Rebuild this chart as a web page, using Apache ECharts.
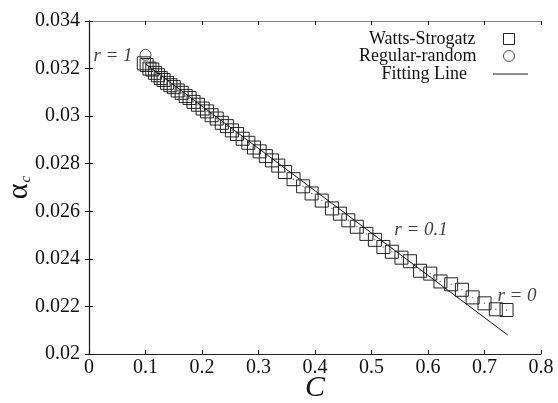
<!DOCTYPE html>
<html><head><meta charset="utf-8">
<script src="https://cdn.jsdelivr.net/npm/echarts@6/dist/echarts.min.js"></script>
<style>html,body{margin:0;padding:0;background:#fff}#c{width:558px;height:403px}</style>
</head><body><div id="c"></div>
<script>
// Watts-Strogatz points (clustering C, critical alpha)
const wsC = [0.097,0.102,0.107,0.112,0.117,0.122,0.127,0.132,0.138,0.144,0.150,0.157,0.164,0.171,0.178,0.185,0.193,0.201,0.209,0.217,0.226,0.235,0.244,0.253,0.262,0.272,0.282,0.292,0.302,0.313,0.324,0.335,
  0.347,0.362,0.379,0.394,0.412,0.430,0.444,0.459,0.474,0.491,0.506,0.521,0.536,0.553,0.568,0.586,0.604,0.622,0.641,0.660,0.679,0.700,0.720,0.739];
const wsAlpha = [0.03222,0.03215,0.03200,0.03196,0.03182,0.03172,0.03160,0.03152,0.03140,0.03130,0.03122,0.03108,0.03098,0.03085,0.03076,0.03060,0.03048,0.03032,0.03020,0.03004,0.02990,0.02972,0.02958,0.02940,0.02925,0.02905,0.02888,0.02868,0.02852,0.02832,0.02814,0.02792,
  0.02765,0.02735,0.02705,0.02675,0.02645,0.02612,0.02590,0.02562,0.02535,0.02505,0.02480,0.02450,0.02430,0.02405,0.02390,0.02350,0.02338,0.02305,0.02293,0.02270,0.02238,0.02213,0.02188,0.02185];
// Regular-random point
const rrC = [0.1];
const rrAlpha = [0.03258];
// Fitting line end points
const fitC = [0.1, 0.741];
const fitAlpha = [0.0322, 0.0208];
// Annotations
const noteC = [0.0425, 0.5876, 0.7575];
const noteAlpha = [0.03252, 0.02521, 0.02244];
const noteText = ['r = 1', 'r = 0.1', 'r = 0'];
// Axis settings
const xMin = 0, xMax = 0.8, xStep = 0.1;
const yMin = 0.02, yMax = 0.034, yStep = 0.002;

const zip = (a, b) => a.map((v, i) => [v, b[i]]);
const serif = '"Liberation Serif", "DejaVu Serif", serif';
const chart = echarts.init(document.getElementById('c'), null, {renderer: 'canvas'});

const tickStyle = {show: true, inside: true, length: 4, lineStyle: {color: '#111', width: 1}};
const baseX = {type: 'value', min: xMin, max: xMax, interval: xStep, splitLine: {show: false}};
const baseY = {type: 'value', min: yMin, max: yMax, interval: yStep, splitLine: {show: false}};

function legendFor(item, top, right, w, h, padRight) {
  return {
    data: [item], orient: 'vertical', align: 'right', right: right, top: top,
    itemWidth: w, itemHeight: h, selectedMode: false,
    itemStyle: {borderWidth: 1},
    textStyle: {fontFamily: serif, fontSize: 18, color: '#111', padding: [0, padRight, 0, 0]}
  };
}

chart.setOption({
  animation: false,
  backgroundColor: '#fff',
  grid: {left: 89, right: 17, top: 21, bottom: 49, outerBoundsMode: 'none', containLabel: false},
  legend: [
    legendFor('Watts-Strogatz', 25, 38, 11, 11, 23),
    legendFor('Regular-random', 42, 38, 11, 11, 22),
    legendFor({name: 'Fitting Line', icon: 'rect', itemStyle: {color: '#222', borderWidth: 0}}, 60, 25, 35, 1, 21)
  ],
  xAxis: [
    Object.assign({}, baseX, {
      position: 'bottom',
      axisLine: {lineStyle: {color: '#222', width: 1.2}},
      axisTick: tickStyle,
      axisLabel: {fontFamily: serif, fontSize: 20, color: '#111', margin: 4},
      name: 'C', nameLocation: 'middle', nameGap: 34, nameMoveOverlap: false,
      nameTextStyle: {fontFamily: serif, fontStyle: 'italic', fontSize: 30, color: '#111', verticalAlign: 'middle', lineHeight: 30}
    }),
    Object.assign({}, baseX, {
      position: 'top',
      axisLine: {lineStyle: {color: '#888', width: 1.2}},
      axisTick: tickStyle,
      axisLabel: {show: false}
    })
  ],
  yAxis: [
    Object.assign({}, baseY, {
      position: 'left',
      axisLine: {lineStyle: {color: '#888', width: 1.2}},
      axisTick: tickStyle,
      axisLabel: {fontFamily: serif, fontSize: 20, color: '#111', margin: 9},
      name: '{a|α}{b|c}', nameLocation: 'middle', nameGap: 55, nameRotate: 90, nameMoveOverlap: false,
      nameTextStyle: {
        color: '#111',
        rich: {
          a: {fontFamily: serif, fontSize: 30, color: '#111'},
          b: {fontFamily: serif, fontSize: 15, fontStyle: 'italic', color: '#111', verticalAlign: 'bottom', padding: [10, 0, 0, 1]}
        }
      }
    }),
    Object.assign({}, baseY, {
      position: 'right',
      axisLine: {lineStyle: {color: '#222', width: 1.2}},
      axisTick: tickStyle,
      axisLabel: {show: false}
    })
  ],
  series: [
    {
      name: 'Fitting Line', type: 'line', data: zip(fitC, fitAlpha),
      symbol: 'none', lineStyle: {color: '#111', width: 1}, itemStyle: {color: '#111'}, z: 3, silent: true
    },
    {
      name: 'Watts-Strogatz', type: 'scatter', data: zip(wsC, wsAlpha),
      symbol: 'rect', symbolSize: 13,
      itemStyle: {color: 'rgba(255,255,255,0)', borderColor: '#222', borderWidth: 1, opacity: 1}, z: 2
    },
    {
      name: 'ws-dots', type: 'scatter', data: zip(wsC, wsAlpha),
      symbol: 'circle', symbolSize: 1.5, itemStyle: {color: '#555'}, silent: true, z: 2
    },
    {
      name: 'Regular-random', type: 'scatter', data: zip(rrC, rrAlpha),
      symbol: 'circle', symbolSize: 11,
      itemStyle: {color: 'rgba(255,255,255,0)', borderColor: '#222', borderWidth: 1}, z: 4
    },
    {
      name: 'notes', type: 'scatter', silent: true, symbolSize: 1,
      itemStyle: {color: 'rgba(0,0,0,0)'},
      data: noteC.map((c, i) => ({value: [c, noteAlpha[i]], name: noteText[i]})),
      label: {show: true, position: 'inside', formatter: p => p.name,
        fontFamily: serif, fontStyle: 'italic', fontSize: 19, color: '#111'},
      z: 5
    }
  ]
});
</script></body></html>
